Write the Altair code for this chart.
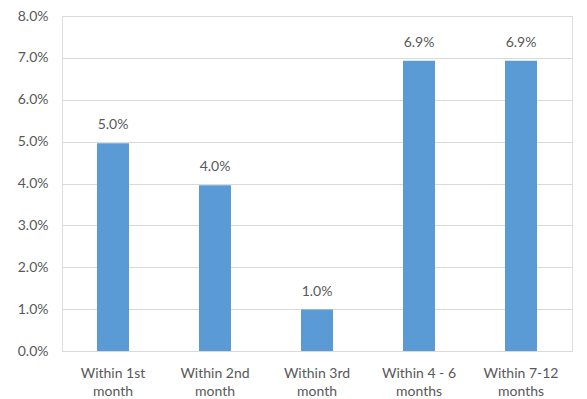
import altair as alt
import pandas as pd

categories = ["Within 1st month", "Within 2nd month", "Within 3rd month",
              "Within 4 - 6 months", "Within 7-12 months"]
values = [0.0496, 0.0396, 0.0099, 0.0693, 0.0693]

df = pd.DataFrame({"category": categories, "value": values})

FONT = "Lato"
GREY = "#595959"

x_enc = alt.X("category:N", sort=categories, title=None,
              scale=alt.Scale(paddingInner=0.69, paddingOuter=0.345),
              axis=alt.Axis(labelAngle=0, ticks=False, domain=True,
                            domainColor="#D9D9D9", labelFont=FONT,
                            labelFontSize=14, labelColor=GREY,
                            labelPadding=15, labelLineHeight=18,
                            labelExpr="[slice(datum.label, 0, lastindexof(datum.label, ' ')), slice(datum.label, lastindexof(datum.label, ' ') + 1)]"))
y_enc = alt.Y("value:Q", title=None,
              scale=alt.Scale(domain=[0, 0.08], nice=False),
              axis=alt.Axis(format=".1%", values=[i / 100 for i in range(9)],
                            ticks=False, domain=False, grid=True,
                            gridColor="#D9D9D9", labelFont=FONT,
                            labelFontSize=14, labelColor=GREY,
                            labelPadding=14))

bars = alt.Chart(df).mark_bar(color="#5B9BD5", size=32).encode(x=x_enc, y=y_enc)
labels = alt.Chart(df).mark_text(baseline="bottom", dy=-11, font=FONT,
                                 fontSize=14, color=GREY).encode(
    x=alt.X("category:N", sort=categories),
    y="value:Q",
    text=alt.Text("value:Q", format=".1%"))

chart = (bars + labels).properties(
    width=510, height=335,
    autosize=alt.AutoSizeParams(type="none"),
    padding={"left": 62, "top": 16, "right": 15, "bottom": 48},
).configure_view(stroke=None).configure(background="white")

chart.save("out.html", embed_options={"renderer": "svg", "actions": False})
